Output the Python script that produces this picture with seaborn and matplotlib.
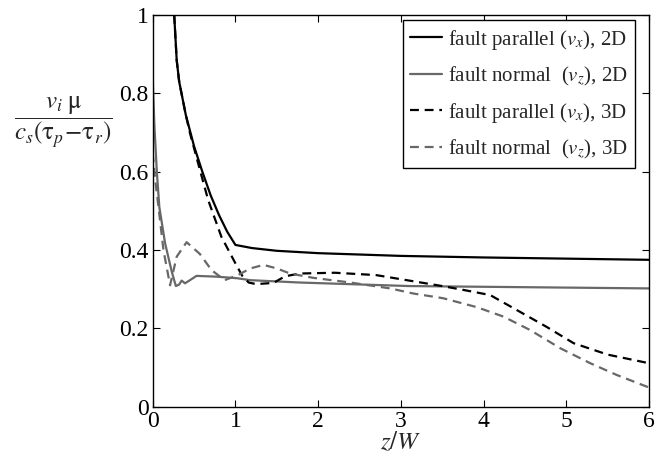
import numpy as np
import pandas as pd
import matplotlib
matplotlib.use("Agg")
import matplotlib.pyplot as plt
import seaborn as sns

# ---- data ----
x_par2d = [0.26, 0.29, 0.32, 0.40, 0.50, 0.60, 0.70, 0.80, 0.90, 1.00, 1.2, 1.5, 2.0, 3.0, 4.0, 5.0, 6.0]
y_par2d = [1.00, 0.885, 0.83, 0.745, 0.665, 0.600, 0.54, 0.49, 0.447, 0.413, 0.405, 0.398, 0.392, 0.385, 0.381, 0.378, 0.375]

x_nor2d = [0.0, 0.02, 0.05, 0.08, 0.15, 0.23, 0.28, 0.32, 0.35, 0.39, 0.45, 0.53, 0.77, 1.02, 1.18, 1.78, 3.1, 6.0]
y_nor2d = [0.84, 0.72, 0.60, 0.51, 0.417, 0.345, 0.308, 0.312, 0.322, 0.315, 0.323, 0.334, 0.332, 0.328, 0.323, 0.317, 0.308, 0.302]

x_par3d = [0.26, 0.29, 0.32, 0.40, 0.45, 0.56, 0.67, 0.83, 1.00, 1.08, 1.16, 1.25, 1.46, 1.60, 1.78, 2.2, 2.7, 3.1, 3.5, 3.76, 4.08, 4.4, 4.76, 5.09, 5.5, 6.0]
y_par3d = [1.00, 0.885, 0.83, 0.745, 0.699, 0.613, 0.528, 0.434, 0.366, 0.335, 0.317, 0.313, 0.316, 0.333, 0.34, 0.342, 0.336, 0.322, 0.308, 0.298, 0.285, 0.247, 0.204, 0.162, 0.133, 0.111]

x_nor3d = [0.0, 0.03, 0.07, 0.13, 0.21, 0.29, 0.41, 0.57, 0.71, 0.87, 1.03, 1.18, 1.34, 1.50, 1.66, 1.94, 2.39, 2.87, 3.15, 3.51, 3.92, 4.24, 4.56, 4.93, 5.29, 5.61, 6.0]
y_nor3d = [0.647, 0.58, 0.51, 0.40, 0.31, 0.383, 0.42, 0.39, 0.349, 0.323, 0.336, 0.353, 0.362, 0.353, 0.34, 0.329, 0.317, 0.302, 0.289, 0.277, 0.254, 0.23, 0.196, 0.149, 0.111, 0.081, 0.049]

labels = [r"fault parallel ($v_x$), 2D",
          r"fault normal  ($v_z$), 2D",
          r"fault parallel ($v_x$), 3D",
          r"fault normal  ($v_z$), 3D"]
x_ticks = [0, 1, 2, 3, 4, 5, 6]
y_ticks = [0, 0.2, 0.4, 0.6, 0.8, 1]
y_ticklabels = ["0", "0.2", "0.4", "0.6", "0.8", "1"]

sns.set_theme(style="ticks")
plt.rcParams["font.family"] = ["Liberation Serif", "DejaVu Serif"]
plt.rcParams["mathtext.fontset"] = "stix"

fig = plt.figure(figsize=(6.65, 4.58), dpi=100)
ax = fig.add_axes([152.7 / 665, 1 - 406.7 / 458, (649 - 152.7) / 665, (406.7 - 15) / 458])

black = "#000000"
gray = "#686868"
series = [
    (x_par2d, y_par2d, labels[0], black, "-"),
    (x_nor2d, y_nor2d, labels[1], gray, "-"),
    (x_par3d, y_par3d, labels[2], black, (0, (4, 2.6))),
    (x_nor3d, y_nor3d, labels[3], gray, (0, (4, 2.6))),
]
for xs, ys, lab, col, ls in series:
    df = pd.DataFrame({"x": xs, "y": ys})
    sns.lineplot(data=df, x="x", y="y", ax=ax, color=col, linestyle=ls,
                 linewidth=1.6, label=lab, sort=False, estimator=None)

ax.set_xlim(0, 6)
ax.set_ylim(0, 1)
ax.set_xticks(x_ticks)
ax.set_xticklabels([str(t) for t in x_ticks])
ax.set_yticks(y_ticks)
ax.set_yticklabels(y_ticklabels)
ax.tick_params(direction="in", length=5, width=0.8, labelsize=17,
               top=True, right=True, colors="black", pad=3)
for s in ax.spines.values():
    s.set_visible(True)
    s.set_color("black")
    s.set_linewidth(1.0)

ax.set_xlabel(r"$z/W$", fontsize=18, labelpad=-1)
ax.set_ylabel("")
fig.text(63 / 665, 1 - 122 / 458,
         r"$\dfrac{v_i\;\mathrm{\mu}}{c_s(\mathrm{\tau}_p\!-\!\mathrm{\tau}_r)}$",
         fontsize=18, ha="center", va="center")

leg = ax.legend(loc="upper right", bbox_to_anchor=(0.972, 0.986), fontsize=15,
                frameon=True, fancybox=False, framealpha=1, edgecolor="black",
                handlelength=1.5, handletextpad=0.3, labelspacing=0.62,
                borderpad=0.35, borderaxespad=0.0)
leg.get_frame().set_linewidth(1.0)

fig.savefig("out.png", dpi=100)
